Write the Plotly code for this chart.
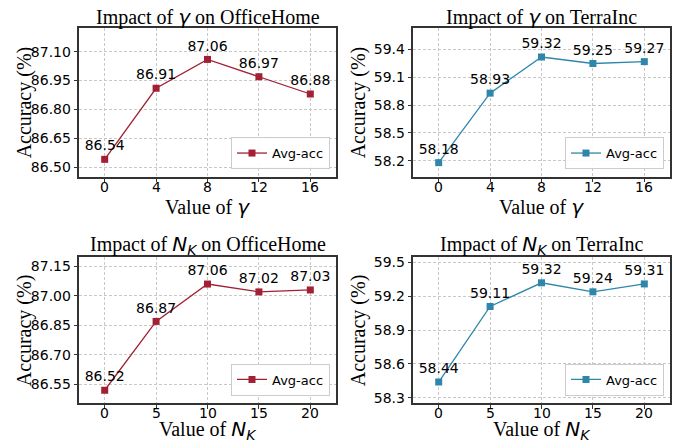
import plotly.graph_objects as go

# ---- data ----
gamma_vals = [0, 4, 8, 12, 16]
nk_vals = [0, 5, 10, 15, 20]
office_gamma = [86.54, 86.91, 87.06, 86.97, 86.88]
terra_gamma = [58.18, 58.93, 59.32, 59.25, 59.27]
office_nk = [86.52, 86.87, 87.06, 87.02, 87.03]
terra_nk = [58.44, 59.11, 59.32, 59.24, 59.31]

office_gamma_ticks = [86.50, 86.65, 86.80, 86.95, 87.10]
terra_gamma_ticks = [58.2, 58.5, 58.8, 59.1, 59.4]
office_nk_ticks = [86.55, 86.70, 86.85, 87.00, 87.15]
terra_nk_ticks = [58.3, 58.6, 58.9, 59.2, 59.5]

RED = "#A31F34"
BLUE = "#2E86AB"
W, H = 697, 443

GAM = "<span style=\"font-family:'DejaVu Sans'\"><i>γ</i></span>"
NK = "<span style=\"font-family:'DejaVu Sans'\"><i>N</i><sub><i>K</i></sub></span>"

panels = [
    dict(x=gamma_vals, y=office_gamma, c=RED, ticks=office_gamma_ticks, fmt=".2f",
         xr=[-2, 18], yr=[86.448, 87.225], px=(79, 336), py=(25, 176), xty=206,
         title=f"Impact of {GAM} on OfficeHome", xt=f"Value of {GAM}"),
    dict(x=gamma_vals, y=terra_gamma, c=BLUE, ticks=terra_gamma_ticks, fmt=".1f",
         xr=[-2, 18], yr=[58.025, 59.636], px=(413, 670), py=(25, 176), xty=206,
         title=f"Impact of {GAM} on TerraInc", xt=f"Value of {GAM}"),
    dict(x=nk_vals, y=office_nk, c=RED, ticks=office_nk_ticks, fmt=".2f",
         xr=[-2.5, 22.5], yr=[86.453, 87.197], px=(79, 336), py=(257, 405), xty=432,
         title=f"Impact of {NK} on OfficeHome", xt=f"Value of {NK}"),
    dict(x=nk_vals, y=terra_nk, c=BLUE, ticks=terra_nk_ticks, fmt=".1f",
         xr=[-2.5, 22.5], yr=[58.25, 59.548], px=(413, 670), py=(257, 405), xty=432,
         title=f"Impact of {NK} on TerraInc", xt=f"Value of {NK}"),
]

fig = go.Figure()
layout = dict(width=W, height=H, margin=dict(l=0, r=0, t=0, b=0),
              paper_bgcolor="white", plot_bgcolor="white", showlegend=True,
              annotations=[])
serif = dict(family="Liberation Serif", size=20, color="black")
tickf = dict(family="DejaVu Sans", size=14, color="black")

for i, p in enumerate(panels):
    n = i + 1
    xa = "x" if n == 1 else f"x{n}"
    ya = "y" if n == 1 else f"y{n}"
    lg = "legend" if n == 1 else f"legend{n}"
    fig.add_trace(go.Scatter(
        x=p["x"], y=p["y"], mode="lines+markers+text",
        text=[f"{v:.2f}" for v in p["y"]], textposition="top center",
        textfont=dict(family="DejaVu Sans", size=14, color="black"),
        line=dict(color=p["c"], width=1.3),
        marker=dict(symbol="square", size=7, color=p["c"]),
        name="Avg-acc", xaxis=xa, yaxis=ya, legend=lg, cliponaxis=False))
    dx = [p["px"][0] / W, p["px"][1] / W]
    dy = [1 - p["py"][1] / H, 1 - p["py"][0] / H]
    axcommon = dict(showline=True, mirror=True, linecolor="#333333", linewidth=1.5,
                    ticks="outside", ticklen=3.5, tickwidth=1, tickcolor="#333333",
                    showgrid=True, gridcolor="#c8c8c8", gridwidth=0.8, griddash="3px,2px",
                    zeroline=False, tickfont=tickf)
    layout["xaxis" if n == 1 else f"xaxis{n}"] = dict(
        axcommon, domain=dx, range=p["xr"], tickvals=p["x"], anchor=ya,
        showticklabels=False)
    layout["yaxis" if n == 1 else f"yaxis{n}"] = dict(
        axcommon, domain=dy, range=p["yr"], tickvals=p["ticks"],
        ticktext=[f"{t:{p['fmt']}}" for t in p["ticks"]], anchor=xa)
    layout[lg] = dict(x=(p["px"][1] - 6) / W, y=1 - (p["py"][1] - 8) / H,
                      xanchor="right", yanchor="bottom",
                      bgcolor="rgba(255,255,255,0.9)", bordercolor="#cccccc", borderwidth=1,
                      font=dict(family="DejaVu Sans", size=13, color="black"))
    cx = (p["px"][0] + p["px"][1]) / 2 / W
    # x tick labels
    for v in p["x"]:
        layout["annotations"].append(dict(
            text=str(v), x=v, xref=xa, y=1 - (p["py"][1] + 10) / H, yref="paper",
            xanchor="center", yanchor="middle", showarrow=False, font=tickf,
            borderpad=0))
    layout["annotations"] += [
        dict(text=p["title"], x=cx, y=dy[1], xref="paper", yref="paper",
             xanchor="center", yanchor="bottom", yshift=-3, showarrow=False, font=serif),
        dict(text=p["xt"], x=cx, y=1 - p["xty"] / H, xref="paper", yref="paper",
             xanchor="center", yanchor="middle", showarrow=False, font=serif,
             borderpad=0),
        dict(text="Accuracy (%)", x=(p["px"][0] - 55) / W, y=(dy[0] + dy[1]) / 2,
             xref="paper", yref="paper", xanchor="center", yanchor="middle",
             textangle=-90, showarrow=False, font=serif),
    ]

fig.update_layout(**layout)
fig.write_html("out.html")
